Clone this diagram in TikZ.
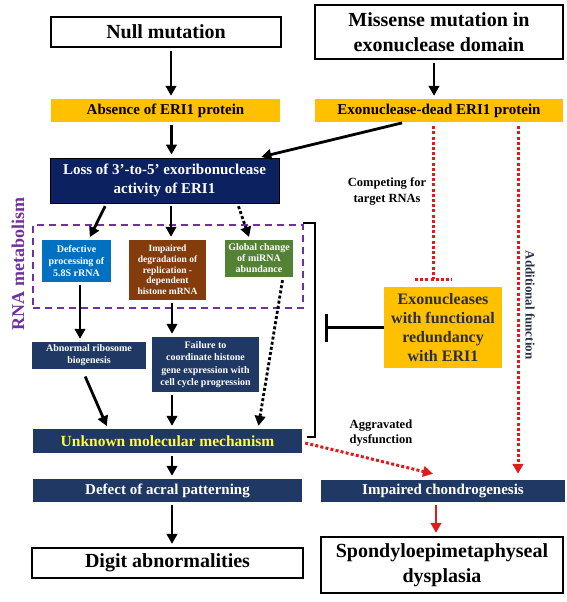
\documentclass[tikz,border=0pt]{standalone}
\usepackage{fontspec}
\setmainfont{Liberation Serif}
\usetikzlibrary{arrows.meta}
\definecolor{eriorange}{HTML}{FFC000}
\definecolor{erinavy}{HTML}{203864}
\definecolor{erideep}{HTML}{0B2160}
\definecolor{eriblue}{HTML}{0070C0}
\definecolor{eribrown}{HTML}{843C0C}
\definecolor{erigreen}{HTML}{548235}
\definecolor{eripurple}{HTML}{7030A0}
\definecolor{erired}{HTML}{E31A1C}
\definecolor{eriyellow}{HTML}{FFFF33}
\definecolor{eridark}{HTML}{2A2F45}
\newcommand\fsz[2]{\fontsize{#1}{#2}\selectfont}

\begin{document}
\begin{tikzpicture}[x=1pt, y=-1pt,
    every node/.style={inner sep=0pt, align=center, font=\bfseries},
    whitebox/.style={draw, line width=2.2pt, fill=white},
    orangebox/.style={fill=eriorange},
    navybox/.style={fill=erinavy, text=white},
    arr/.style={line width=2.8pt, -{Triangle[length=10pt,width=10.5pt]}, shorten <=3pt, shorten >=3pt},
    dotarr/.style={arr, dash pattern=on 3pt off 2.2pt},
    reddot/.style={draw=erired, line width=3pt, dash pattern=on 3pt off 2.2pt},
    redtip/.style={-{Triangle[length=10pt,width=10.5pt]}, erired}]
  \useasboundingbox (0,0) rectangle (566,602);

  \node [draw=eripurple, line width=1.8pt, dash pattern=on 7pt off 5pt, minimum width=270pt, minimum height=83pt] (rnabox) at (168,266.5) {};
  \node [rotate=90, text=eripurple, font=\bfseries\fsz{18}{20}] (rnalab) at (18,264) {RNA metabolism};

  \node [whitebox, minimum width=230pt, minimum height=30pt, font=\bfseries\fsz{20}{24}] (null) at (166,32) {Null mutation};
  \node [whitebox, minimum width=248pt, minimum height=54pt, font=\bfseries\fsz{20}{25}] (miss) at (439,32) {Missense mutation in\\exonuclease domain};
  \node [orangebox, minimum width=229pt, minimum height=23pt, font=\bfseries\fsz{15}{18}] (absence) at (165.5,110.5) {Absence of ERI1 protein};
  \node [orangebox, minimum width=248pt, minimum height=23pt, font=\bfseries\fsz{15}{18}] (exodead) at (439,110.5) {Exonuclease-dead ERI1 protein};
  \node [draw=black, line width=0.8pt, fill=erideep, text=white, minimum width=229pt, minimum height=45pt, font=\bfseries\fsz{15}{19}] (loss) at (164.5,180.5) {Loss of 3’-to-5’ exoribonuclease\\activity of ERI1};

  \node [fill=eriblue, text=white, minimum width=69pt, minimum height=42pt, font=\bfseries\fsz{10}{12}] (defp) at (76.5,261) {Defective\\processing of\\5.8S rRNA};
  \node [fill=eribrown, text=white, minimum width=77pt, minimum height=60pt, font=\bfseries\fsz{9.5}{10.7}] (histdeg) at (167.5,270) {Impaired\\degradation of\\replication -\\dependent\\histone mRNA};
  \node [fill=erigreen, text=white, minimum width=68pt, minimum height=37pt, font=\bfseries\fsz{10}{11}] (mirna) at (259,258.5) {Global change\\of miRNA\\abundance};

  \node [navybox, minimum width=114pt, minimum height=27pt, font=\bfseries\fsz{10}{12}] (ribo) at (89,355.5) {Abnormal ribosome\\biogenesis};
  \node [navybox, minimum width=107pt, minimum height=55pt, font=\bfseries\fsz{10}{12.3}] (coord) at (205.5,364.5) {Failure to\\coordinate histone\\gene expression with\\cell cycle progression};
  \node [fill=eriorange, text=eridark, minimum width=118pt, minimum height=81pt, font=\bfseries\fsz{16}{19}] (exo) at (443,327.5) {Exonucleases\\with functional\\redundancy\\with ERI1};

  \node [navybox, text=eriyellow, minimum width=269pt, minimum height=24pt, font=\bfseries\fsz{15.5}{18}] (unknown) at (167.5,441) {Unknown molecular mechanism};
  \node [navybox, minimum width=269pt, minimum height=23pt, font=\bfseries\fsz{15}{18}] (defect) at (167.5,490.5) {Defect of acral patterning};
  \node [navybox, minimum width=244pt, minimum height=22pt, font=\bfseries\fsz{15}{18}] (chondro) at (443,491) {Impaired chondrogenesis};
  \node [whitebox, minimum width=271pt, minimum height=30pt, font=\bfseries\fsz{20}{24}] (digit) at (167.5,563) {Digit abnormalities};
  \node [whitebox, minimum width=242pt, minimum height=56pt, font=\bfseries\fsz{20}{25}] (spondy) at (442,565) {Spondyloepimetaphyseal\\dysplasia};

  \node [font=\bfseries\fsz{12.5}{16}] (compete) at (387,191) {Competing for\\target RNAs};
  \node [align=left, font=\bfseries\fsz{12.5}{15}] (aggr) at (381,433) {Aggravated\\dysfunction};
  \node [rotate=-90, text=eridark, font=\bfseries\fsz{13}{15}] (addfn) at (530,305) {Additional function};

  \foreach \a/\b/\dx in {null/absence/5, absence/loss/6, miss/exodead/-5, loss/histdeg/6.5,
      defp/ribo/3.5, histdeg/coord/4.5, coord/unknown/-33.5, unknown/defect/4.5, defect/digit/4.5}
    \draw [arr] ([xshift=\dx pt]\a.south) -- ([xshift=\dx pt]\a.south |- \b.north);

  \draw [arr] ([xshift=-34pt]exodead.south) -- ([xshift=-21pt]loss.north east);
  \draw [arr] ([xshift=-58pt]loss.south) -- ([xshift=12pt]defp.north);
  \draw [arr, shorten <=8pt] ([xshift=-7pt]ribo.south) -- ([xshift=-59.5pt]unknown.north);
  \draw [dotarr] ([xshift=73pt]loss.south) -- ([xshift=-9pt]mirna.north);
  \draw [dotarr] ([xshift=24pt]mirna.south) -- ([xshift=90.5pt]unknown.north);
  \draw [arr, draw=erired, fill=erired] ([xshift=-7pt]chondro.south) -- ([xshift=-7pt]chondro.south |- spondy.north);

  \coordinate (tbar) at (433,279);
  \draw [reddot] ([xshift=-6pt,yshift=-4pt]exodead.south) -- (tbar);
  \draw [reddot] ([xshift=-18pt]tbar) -- ([xshift=19pt]tbar);
  \draw [reddot, redtip] ([xshift=79pt,yshift=-4pt]exodead.south) -- ([xshift=75pt,yshift=6pt]chondro.north);
  \draw [reddot, redtip] ([xshift=3pt,yshift=-2pt]unknown.east) -- ([xshift=-10pt,yshift=6pt]chondro.north);

  \draw [line width=2.5pt] (303,223) -- (315,223) -- (315,437) -- (307,437);
  \coordinate (inh) at (325,327.5);
  \draw [line width=2.5pt, -{Bar[width=28pt]}] (exo.west) -- (inh);
\end{tikzpicture}
\end{document}
